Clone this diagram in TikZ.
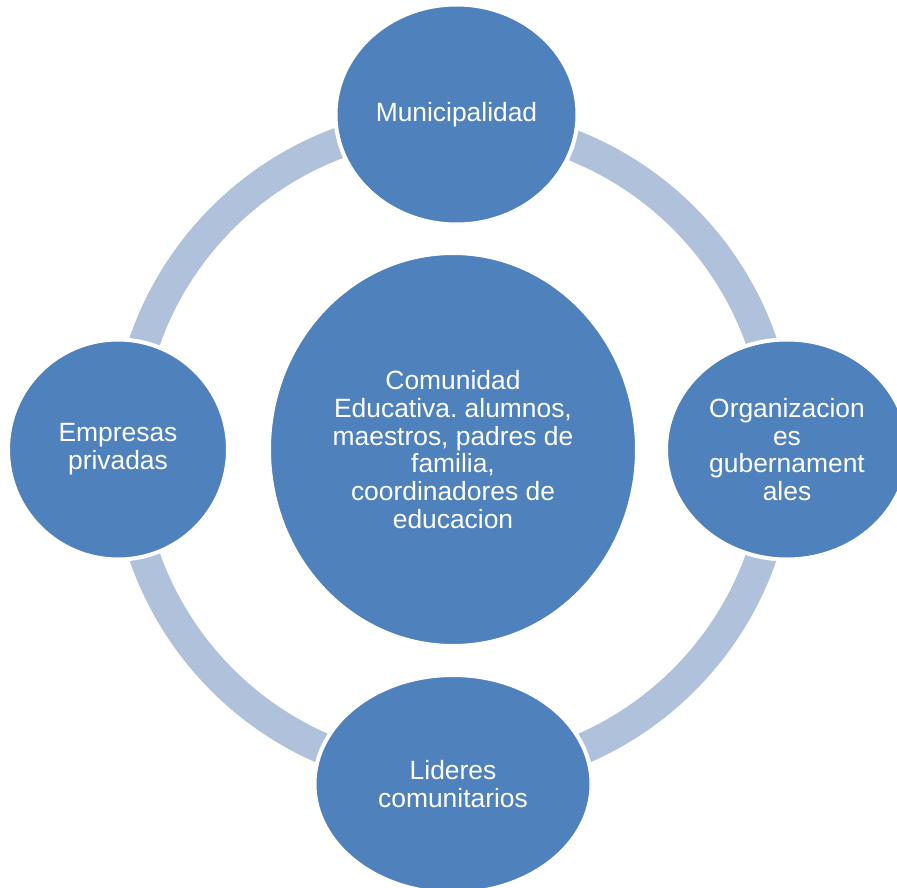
\documentclass[tikz,border=0pt]{standalone}
\usepackage{fontspec}
\setmainfont{Liberation Sans}
\usetikzlibrary{shapes.geometric}
\definecolor{nodeblue}{HTML}{4F81BD}
\definecolor{ringblue}{RGB}{176,193,220}
\frenchspacing
\begin{document}
\begin{tikzpicture}[x=1pt,y=-1pt,
  bubble/.style={ellipse, fill=nodeblue, draw=white, line width=4pt, inner sep=0pt, outer sep=0pt,
    text=white, align=center, font=\fontsize{26.4}{27.7}\selectfont\frenchspacing},
  ringline/.style={draw=ringblue, line width=31pt}
]
\useasboundingbox (0,0) rectangle (897,888);
\clip (0,0) rectangle (897,888);
\fill[white] (0,0) rectangle (897,888);
\coordinate (ringcenter) at (453,449);
\draw[ringline] (ringcenter) circle[radius=326.5];
\node[bubble, minimum width=368pt, minimum height=393pt] (center) at (453,449.5)
  {Comunidad\\Educativa. alumnos,\\maestros, padres de\\familia,\\coordinadores de\\educacion};
\node[bubble, minimum width=242pt, minimum height=220pt] (top) at (456.5,114.5) {Municipalidad};
\node[bubble, minimum width=242pt, minimum height=220pt] (right) at (787,449.5) {Organizacion\\es\\gubernament\\ales};
\node[bubble, minimum width=220pt, minimum height=220pt] (left) at (118,449.5) {Empresas\\privadas};
\node[bubble, minimum width=277pt, minimum height=218pt] (bottom) at (453,784) {Lideres\\comunitarios};
\end{tikzpicture}
\end{document}
